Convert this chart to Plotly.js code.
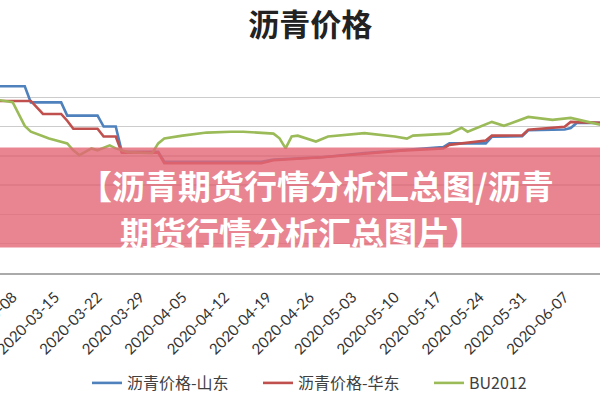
<!DOCTYPE html>
<html>
<head>
<meta charset="utf-8">
<script src="https://cdn.plot.ly/plotly-3.0.1.min.js"></script>
<style>html,body{margin:0;padding:0;background:#fff;}#chart{width:600px;height:400px;}</style>
</head>
<body>
<div id="chart"></div>
<script>
// 沥青价格-山东
const sdDates = ["2020-03-05","2020-03-10","2020-03-11","2020-03-16","2020-03-17","2020-03-22","2020-03-23","2020-03-25","2020-03-26","2020-04-01","2020-04-02","2020-04-18","2020-04-20","2020-04-28","2020-05-05","2020-05-11","2020-05-18","2020-05-19","2020-05-25","2020-05-26","2020-05-31","2020-06-01","2020-06-07","2020-06-08","2020-06-09","2020-06-13"];
const sdValues = [3075,3075,2965,2965,2875,2875,2800,2800,2628,2628,2560,2560,2575,2590,2620,2640,2660,2685,2685,2730,2735,2775,2780,2790,2825,2825];
// 沥青价格-华东
const hdDates = ["2020-03-05","2020-03-11","2020-03-13","2020-03-16","2020-03-17","2020-03-18","2020-03-22","2020-03-23","2020-03-25","2020-03-26","2020-04-01","2020-04-02","2020-04-18","2020-04-20","2020-04-28","2020-05-05","2020-05-11","2020-05-18","2020-05-19","2020-05-25","2020-05-26","2020-05-31","2020-06-01","2020-06-07","2020-06-08","2020-06-13"];
const hdValues = [2975,2975,2886,2886,2840,2785,2785,2732,2732,2622,2622,2550,2550,2570,2590,2615,2635,2650,2675,2705,2738,2740,2779,2799,2832,2825];
// BU2012
const buDates = ["2020-03-05","2020-03-08","2020-03-10","2020-03-11","2020-03-14","2020-03-17","2020-03-18","2020-03-19","2020-03-21","2020-03-22","2020-03-24","2020-03-25","2020-03-27","2020-03-31","2020-04-01","2020-04-02","2020-04-05","2020-04-09","2020-04-13","2020-04-15","2020-04-20","2020-04-21","2020-04-22","2020-04-23","2020-04-24","2020-04-27","2020-04-29","2020-05-05","2020-05-10","2020-05-12","2020-05-13","2020-05-19","2020-05-21","2020-05-22","2020-05-26","2020-05-28","2020-06-01","2020-06-05","2020-06-08","2020-06-10","2020-06-12","2020-06-13"];
const buValues = [2986,2966,2805,2765,2718,2685,2638,2605,2651,2638,2672,2651,2625,2618,2685,2718,2738,2759,2765,2765,2752,2720,2651,2732,2738,2698,2732,2755,2732,2718,2738,2752,2792,2765,2832,2805,2866,2846,2859,2839,2819,2812];
const seriesNames = ["沥青价格-山东","沥青价格-华东","BU2012"];
const tickDates = ["2020-03-08","2020-03-15","2020-03-22","2020-03-29","2020-04-05","2020-04-12","2020-04-19","2020-04-26","2020-05-03","2020-05-10","2020-05-17","2020-05-24","2020-05-31","2020-06-07","2020-06-14"];
const chartTitle = "沥青价格";
const bannerLine1 = "【沥青期货行情分析汇总图/沥青";
const bannerLine2 = "期货行情分析汇总图片】";

const lineW = 2.6;
const traces = [
  {x: sdDates, y: sdValues, name: seriesNames[0], type: "scatter", mode: "lines", line: {color: "#4F81BD", width: lineW}},
  {x: hdDates, y: hdValues, name: seriesNames[1], type: "scatter", mode: "lines", line: {color: "#C0504D", width: lineW}},
  {x: buDates, y: buValues, name: seriesNames[2], type: "scatter", mode: "lines", line: {color: "#9BBB59", width: lineW}}
];
const cjk = '"Noto Sans CJK SC", sans-serif';
const layout = {
  width: 600, height: 400,
  margin: {l: 0, r: 0, t: 68, b: 123},
  paper_bgcolor: "#ffffff", plot_bgcolor: "#ffffff",
  showlegend: true,
  title: {text: "<b>" + chartTitle + "</b>", font: {family: cjk, size: 31, color: "#222"}, x: 0.517, xanchor: "center", y: 0.9375, yref: "container", yanchor: "middle"},
  xaxis: {
    type: "date",
    range: ["2020-03-05 22:00", "2020-06-12 20:00"],
    tickvals: tickDates, ticktext: tickDates,
    tickangle: -45,
    tickfont: {family: "Lato, sans-serif", size: 15, color: "#333"},
    ticklabelstandoff: 8,
    ticklabeloverflow: "allow",
    showgrid: false, zeroline: false,
    showline: true, linecolor: "#aaaaaa", linewidth: 1.5,
    ticks: ""
  },
  yaxis: {
    range: [1800, 3200], dtick: 200, tick0: 1800,
    showticklabels: false, showgrid: true, gridcolor: "#cccccc", gridwidth: 1.3,
    zeroline: false, showline: false, ticks: ""
  },
  legend: {orientation: "h", x: 1, xanchor: "right", y: -0.54, yanchor: "middle",
    font: {family: cjk, size: 16, color: "#404040"}, itemwidth: 30, entrywidth: 126},
  shapes: [
    {type: "rect", xref: "paper", yref: "paper", x0: 0, x1: 1, y0: 0.124, y1: 0.612, layer: "above",
     line: {width: 0}, fillcolor: "rgba(226,102,118,0.8)"}
  ],
  annotations: [
    {text: "<b>" + bannerLine1 + "</b>", xref: "paper", yref: "paper", x: 0.527, y: 0.4306, xanchor: "center", yanchor: "middle", showarrow: false,
     font: {family: cjk, size: 33, color: "#ffffff"}},
    {text: "<b>" + bannerLine2 + "</b>", xref: "paper", yref: "paper", x: 0.503, y: 0.201, xanchor: "center", yanchor: "middle", showarrow: false,
     font: {family: cjk, size: 33, color: "#ffffff"}}
  ]
};
Plotly.newPlot("chart", traces, layout, {staticPlot: true, displayModeBar: false});
</script>
</body>
</html>
